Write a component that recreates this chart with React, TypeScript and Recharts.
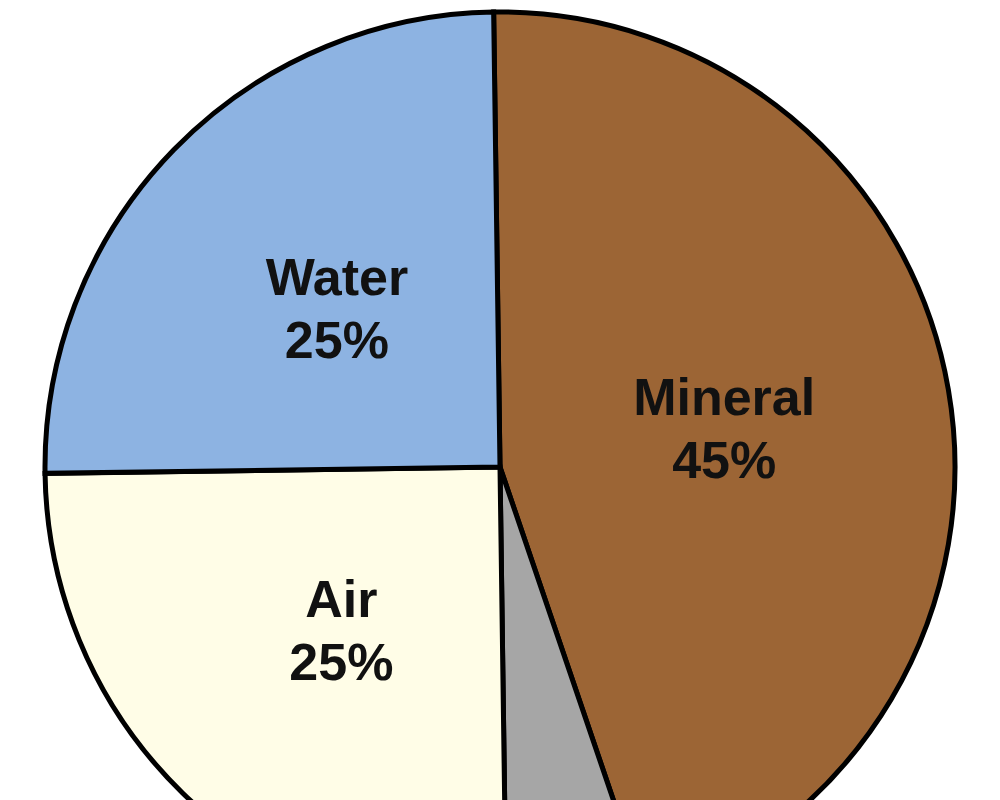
import React from 'react';
import { PieChart, Pie, Cell } from 'recharts';

const categories = ['Mineral', 'Organic Matter', 'Air', 'Water'];
const values = [45, 5, 25, 25];
const showLabel = [true, false, true, true];
const colors = ['#9C6535', '#A6A6A6', '#FFFDE7', '#8DB3E2'];

const data = categories.map((name, i) => ({ name, value: values[i], show: showLabel[i] }));

const RAD = Math.PI / 180;

const renderLabel = (props: any) => {
  const { cx, cy, midAngle, outerRadius, payload, value } = props;
  if (!payload || !payload.show) return null;
  const r = outerRadius * 0.5;
  const x = cx + r * Math.cos(-midAngle * RAD);
  const y = cy + r * Math.sin(-midAngle * RAD);
  return (
    <text
      x={x}
      y={y}
      textAnchor="middle"
      fill="#111"
      fontFamily="'Liberation Sans', Arial, sans-serif"
      fontWeight="bold"
      fontSize={52}
    >
      <tspan x={x} y={y - 13}>{payload.name}</tspan>
      <tspan x={x} y={y + 50}>{value}%</tspan>
    </text>
  );
};

export default function App() {
  return (
    <div style={{ position: 'absolute', left: 0, top: 0, width: 1000, height: 800, background: '#fff', overflow: 'hidden' }}>
      <PieChart width={1000} height={800} margin={{ top: 0, right: 0, bottom: 0, left: 0 }}>
        <Pie
          data={data}
          dataKey="value"
          nameKey="name"
          cx={500}
          cy={467}
          outerRadius={455}
          startAngle={90.8}
          endAngle={-269.2}
          stroke="#000"
          strokeWidth={5}
          label={renderLabel}
          labelLine={false}
          isAnimationActive={false}
        >
          {data.map((d, i) => (
            <Cell key={d.name} fill={colors[i]} />
          ))}
        </Pie>
      </PieChart>
    </div>
  );
}
